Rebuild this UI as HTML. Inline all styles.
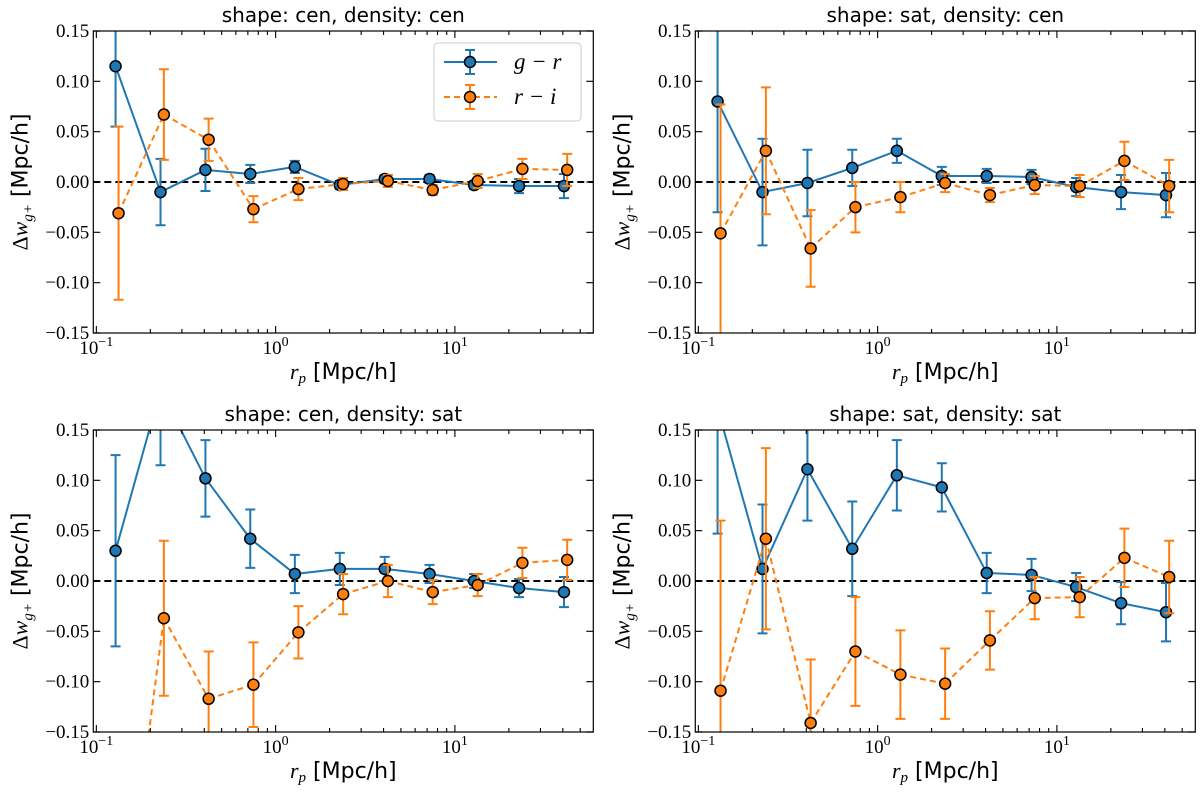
<!DOCTYPE html>
<html><head><meta charset="utf-8"><style>
html,body{margin:0;padding:0;background:#fff;overflow:hidden;width:1200px;height:792px;}
svg{display:block;overflow:hidden;}
svg text{font-family:"Liberation Serif",serif;}
.sans{font-family:"DejaVu Sans","Liberation Sans",sans-serif;}
</style></head><body>
<svg id="fig" width="1200" height="792" viewBox="0 0 1200 792" xmlns="http://www.w3.org/2000/svg"></svg>
<script>
const xBlue = [0.128,0.228,0.406,0.722,1.28,2.28,4.06,7.22,12.8,22.8,40.6];
const xOrange = [0.133,0.238,0.423,0.752,1.34,2.38,4.23,7.52,13.4,23.8,42.3];
const yTicks = [-0.15,-0.10,-0.05,0.00,0.05,0.10,0.15];
const yTickLabels = ["\u22120.15","\u22120.10","\u22120.05","0.00","0.05","0.10","0.15"];
const xTickExps = ["\u22121","0","1"];
const panelTitles = ["shape: cen, density: cen","shape: sat, density: cen","shape: cen, density: sat","shape: sat, density: sat"];

const blueTL = [0.115,-0.010,0.012,0.008,0.015,-0.003,0.003,0.003,-0.003,-0.004,-0.004];
const blueErrTL = [0.060,0.033,0.021,0.009,0.006,0.004,0.004,0.004,0.004,0.007,0.012];
const orangeTL = [-0.031,0.067,0.042,-0.027,-0.007,-0.002,0.001,-0.008,0.001,0.013,0.012];
const orangeErrTL = [0.086,0.045,0.021,0.013,0.011,0.006,0.006,0.005,0.007,0.010,0.016];

const blueTR = [0.080,-0.010,-0.001,0.014,0.031,0.006,0.006,0.005,-0.005,-0.010,-0.013];
const blueErrTR = [0.110,0.053,0.033,0.018,0.012,0.009,0.007,0.007,0.009,0.017,0.022];
const orangeTR = [-0.051,0.031,-0.066,-0.025,-0.015,-0.001,-0.013,-0.003,-0.004,0.021,-0.004];
const orangeErrTR = [0.128,0.063,0.038,0.025,0.015,0.009,0.007,0.009,0.011,0.019,0.026];

const blueBL = [0.030,0.190,0.102,0.042,0.007,0.012,0.012,0.007,0.000,-0.007,-0.011];
const blueErrBL = [0.095,0.075,0.038,0.029,0.019,0.016,0.012,0.009,0.007,0.009,0.015];
const orangeBL = [-0.380,-0.037,-0.117,-0.103,-0.051,-0.013,0.000,-0.011,-0.004,0.018,0.021];
const orangeErrBL = [0.100,0.077,0.047,0.042,0.026,0.020,0.016,0.012,0.011,0.015,0.020];

const blueBR = [0.172,0.012,0.111,0.032,0.105,0.093,0.008,0.006,-0.006,-0.022,-0.031];
const blueErrBR = [0.125,0.064,0.051,0.047,0.035,0.024,0.020,0.016,0.014,0.021,0.029];
const orangeBR = [-0.109,0.042,-0.141,-0.070,-0.093,-0.102,-0.059,-0.017,-0.016,0.023,0.004];
const orangeErrBR = [0.169,0.090,0.063,0.054,0.044,0.035,0.029,0.021,0.020,0.029,0.036];

const panels = [
 {name:"top-left",x0:93.3,y0:31,b:blueTL,be:blueErrTL,o:orangeTL,oe:orangeErrTL,legend:true},
 {name:"top-right",x0:695.3,y0:31,b:blueTR,be:blueErrTR,o:orangeTR,oe:orangeErrTR},
 {name:"bottom-left",x0:93.3,y0:430,b:blueBL,be:blueErrBL,o:orangeBL,oe:orangeErrBL},
 {name:"bottom-right",x0:695.3,y0:430,b:blueBR,be:blueErrBR,o:orangeBR,oe:orangeErrBR}
];
const W=500,H=302, LMIN=-1.017, LMAX=1.772, YMIN=-0.15, YMAX=0.15;
const BLUE="#1f77b4", ORANGE="#ff7f0e";
const NS="http://www.w3.org/2000/svg";
const svg=document.getElementById('fig');
function mk(tag,attrs,parent){const e=document.createElementNS(NS,tag);for(const k in attrs)e.setAttribute(k,attrs[k]);(parent||svg).appendChild(e);return e;}

panels.forEach((p,pi)=>{
  const sx=v=>p.x0+(Math.log10(v)-LMIN)/(LMAX-LMIN)*W;
  const sy=v=>p.y0+(YMAX-v)/(YMAX-YMIN)*H;
  const top=p.y0-3, bot=p.y0+H+3;
  const g=mk('g',{});
  
  
  const cid='clip'+pi;
  const cp=mk('clipPath',{id:cid},g);
  mk('rect',{x:p.x0,y:p.y0,width:W,height:H},cp);
  const t=mk('text',{x:p.x0+W/2,y:p.y0-9,'text-anchor':'middle','font-size':'20',class:'sans'},g);
  t.textContent=panelTitles[pi];
  
  
  const pa=mk('g',{'clip-path':'url(#'+cid+')'},g);
  const zl=mk('line',{x1:p.x0,x2:p.x0+W,y1:sy(0),y2:sy(0),stroke:'#000','stroke-width':2,'stroke-dasharray':'7,4'},pa);
  
  
  function clipSeg(a,b){
    // clip segment a->b in y to [top,bot]
    let [x1,y1]=a,[x2,y2]=b;
    const f=(yt)=>[x1+(x2-x1)*(yt-y1)/(y2-y1),yt];
    if((y1<top&&y2<top)||(y1>bot&&y2>bot))return null;
    if(y1<top){[x1,y1]=f(top);} else if(y1>bot){[x1,y1]=f(bot);}
    if(y2<top){[x2,y2]=f(top);} else if(y2>bot){[x2,y2]=f(bot);}
    return [[x1,y1],[x2,y2]];
  }
  function series(xs,ys,es,col,dash,nm){
    const sg=mk('g',{},pa);
    
    
    const P=xs.map((x,i)=>[sx(x),sy(ys[i])]);
    let d='';
    for(let i=0;i<P.length-1;i++){
      const s=clipSeg(P[i],P[i+1]); if(!s)continue;
      d+=`M${s[0][0].toFixed(2)},${s[0][1].toFixed(2)}L${s[1][0].toFixed(2)},${s[1][1].toFixed(2)}`;
    }
    const pl=mk('path',{d:d,fill:'none',stroke:col,'stroke-width':2,'stroke-dasharray':dash||''},sg);
    
    
    xs.forEach((x,i)=>{
      const cx=sx(x);
      const r1=sy(ys[i]+es[i]), r2=sy(ys[i]-es[i]);
      const t1=Math.max(r1,top), t2=Math.min(r2,bot);
      if(t1>=t2)return;
      let dd=`M${cx},${t1}V${t2}`;
      if(r1>=top)dd+=`M${cx-5},${r1}H${cx+5}`;
      if(r2<=bot)dd+=`M${cx-5},${r2}H${cx+5}`;
      const eb=mk('path',{d:dd,stroke:col,'stroke-width':2,fill:'none'},sg);
      
      
    });
    xs.forEach((x,i)=>{
      const cy=sy(ys[i]);
      if(cy<top-8||cy>bot+8)return;
      const c=mk('circle',{cx:sx(x),cy:cy,r:5.5,fill:col,stroke:'#000','stroke-width':1.5},sg);
      
      
    });
  }
  series(xBlue,p.b,p.be,BLUE,'','g-r');
  series(xOrange,p.o,p.oe,ORANGE,'6,4','r-i');
  const fr=mk('rect',{x:p.x0,y:p.y0,width:W,height:H,fill:'none',stroke:'#000','stroke-width':1.2},g);
  
  
  yTicks.forEach((v,i)=>{
    const y=sy(v);
    mk('path',{d:`M${p.x0},${y}h7M${p.x0+W},${y}h-7`,stroke:'#000','stroke-width':1.2},g);
    const tl=mk('text',{x:p.x0-4,y:y+6,'text-anchor':'end','font-size':'19'},g);
    tl.textContent=yTickLabels[i];
    
    
  });
  for(let d=-1;d<=1;d++){
    for(let m=1;m<=9;m++){
      const v=m*Math.pow(10,d); const lv=Math.log10(v);
      if(lv<LMIN||lv>LMAX)continue;
      const x=sx(v), L=m===1?7:4;
      mk('path',{d:`M${x},${p.y0+H}v${-L}M${x},${p.y0}v${L}`,stroke:'#000','stroke-width':1.1},g);
    }
    const x=sx(Math.pow(10,d));
    const tl=mk('text',{x:x,y:p.y0+H+21,'text-anchor':'middle','font-size':'19'},g);
    
    
    tl.innerHTML='10<tspan dy="-8" font-size="14">'+xTickExps[d+1]+'</tspan>';
  }
  const xl=mk('text',{x:p.x0+W/2,y:p.y0+H+46,'text-anchor':'middle','font-size':'22'},g);
  xl.innerHTML='<tspan font-style="italic">r</tspan><tspan font-style="italic" font-size="15" dy="4">p</tspan><tspan dy="-4" font-family="DejaVu Sans, Liberation Sans, sans-serif"> [Mpc/h]</tspan>';
  
  
  const ycx=p.x0-66, ycy=p.y0+H/2;
  const yl=mk('text',{x:ycx,y:ycy,'text-anchor':'middle','font-size':'22',transform:`rotate(-90 ${ycx} ${ycy})`},g);
  yl.innerHTML='Δ<tspan font-style="italic">w</tspan><tspan font-style="italic" font-size="15" dy="5">g+</tspan><tspan dy="-5" font-family="DejaVu Sans, Liberation Sans, sans-serif"> [Mpc/h]</tspan>';
  
  
  if(p.legend){
    const lg=mk('g',{},g);
    
    
    mk('rect',{x:434,y:43,width:147,height:78,rx:4,fill:'#fff',stroke:'#ccc','stroke-width':1},lg);
    [[62,BLUE,'','g − r','legend-entry-g-r'],[97,ORANGE,'6,4','r − i','legend-entry-r-i']].forEach(e=>{
      const eg=mk('g',{},lg);
      
      
      mk('line',{x1:444,x2:497,y1:e[0],y2:e[0],stroke:e[1],'stroke-width':2,'stroke-dasharray':e[2]},eg);
      mk('path',{d:`M470,${e[0]-12}V${e[0]+12}M465,${e[0]-12}H475M465,${e[0]+12}H475`,stroke:e[1],'stroke-width':2},eg);
      mk('circle',{cx:470,cy:e[0],r:5.5,fill:e[1],stroke:'#000','stroke-width':1.5},eg);
      const tx=mk('text',{x:514,y:e[0]+7,'font-size':'23','font-style':'italic'},eg);
      tx.textContent=e[3];
    });
  }
});
</script>
</body></html>
